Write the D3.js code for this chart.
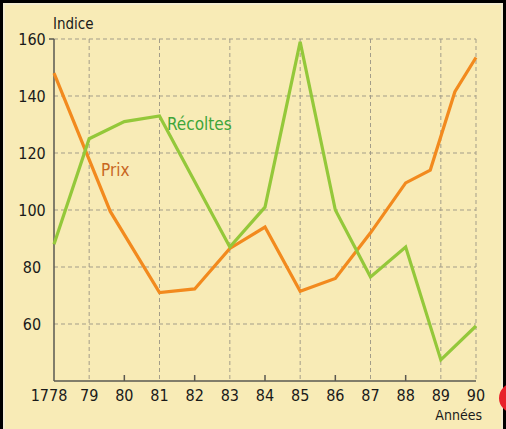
<!DOCTYPE html>
<html>
<head>
<meta charset="utf-8">
<script src="https://cdn.jsdelivr.net/npm/d3@7"></script>
<style>
  html, body { margin: 0; padding: 0; background: #ffffff; }
  svg { display: block; }
  text { font-family: "DejaVu Sans Condensed", "Liberation Sans", sans-serif; }
</style>
</head>
<body>
<svg id="chart" width="506" height="429"></svg>
<script>
// ---- data ----
const recolteYears = [1778, 1779, 1780, 1781, 1782, 1783, 1784, 1785, 1786, 1787, 1788, 1789, 1790];
const recoltes     = [88, 125, 131, 133, 110, 87, 101, 159, 100, 76.5, 87, 47.4, 59.3];
const prixYears    = [1778, 1779.6, 1781, 1782, 1783, 1784, 1785, 1786, 1787, 1788, 1788.7, 1789.4, 1790];
const prix         = [148, 99.5, 71, 72.3, 86.5, 94, 71.5, 76, 92, 109.5, 114, 141.5, 153.5];
const yTicks       = [60, 80, 100, 120, 140, 160];
const xTickYears   = [1778, 1779, 1780, 1781, 1782, 1783, 1784, 1785, 1786, 1787, 1788, 1789, 1790];
const xTickLabels  = ["1778", "79", "80", "81", "82", "83", "84", "85", "86", "87", "88", "89", "90"];
const dashedYears  = [1779, 1781, 1783, 1785, 1787, 1789, 1790];
const solidTickYears = [1780, 1782, 1784, 1786, 1788];

const svg = d3.select("#chart");
const W = 506, H = 429;

// background + frame
svg.append("rect").attr("x", 0).attr("y", 0).attr("width", W).attr("height", H).attr("fill", "#000");
svg.append("rect").attr("x", 3).attr("y", 3).attr("width", W - 6).attr("height", H - 3).attr("fill", "#f3ecd0");
svg.append("rect").attr("x", 5).attr("y", 5).attr("width", W - 10).attr("height", H - 5).attr("fill", "#f8ebb6");
// red decoration at right edge
svg.append("circle").attr("cx", 514).attr("cy", 398).attr("r", 15).attr("fill", "#e8202a");

const x = d3.scaleLinear().domain([1778, 1790]).range([54, 476]);
const y = d3.scaleLinear().domain([40, 160]).range([381, 39]);

const gridColor = "#a39d89";
// horizontal dashed gridlines
svg.append("g").selectAll("line").data(yTicks).join("line")
  .attr("x1", x(1778)).attr("x2", x(1790))
  .attr("y1", d => y(d)).attr("y2", d => y(d))
  .attr("stroke", gridColor).attr("stroke-width", 1).attr("stroke-dasharray", "4,3");
// vertical dashed gridlines
svg.append("g").selectAll("line").data(dashedYears).join("line")
  .attr("x1", d => x(d)).attr("x2", d => x(d))
  .attr("y1", y(160)).attr("y2", y(40))
  .attr("stroke", gridColor).attr("stroke-width", 1).attr("stroke-dasharray", "4,3");

// axes
const axisColor = "#5a5850";
svg.append("line").attr("x1", x(1778)).attr("x2", x(1778)).attr("y1", y(160)).attr("y2", y(40))
  .attr("stroke", axisColor).attr("stroke-width", 1.5);
svg.append("line").attr("x1", x(1778)).attr("x2", x(1790)).attr("y1", y(40)).attr("y2", y(40))
  .attr("stroke", axisColor).attr("stroke-width", 1.5);
svg.append("g").selectAll("line").data(solidTickYears).join("line")
  .attr("x1", d => x(d)).attr("x2", d => x(d))
  .attr("y1", y(40)).attr("y2", y(40) - 6)
  .attr("stroke", axisColor).attr("stroke-width", 1.5);
svg.append("line").attr("x1", x(1778) - 5).attr("x2", x(1778)).attr("y1", y(160)).attr("y2", y(160))
  .attr("stroke", axisColor).attr("stroke-width", 1.5);

// y labels
svg.append("g").selectAll("text").data(yTicks).join("text")
  .attr("x", 32).attr("y", d => y(d)).attr("dy", "0.36em")
  .attr("text-anchor", "middle").attr("font-size", 16).attr("fill", "#1a1a1a")
  .text(d => d);
// x labels
svg.append("g").selectAll("text").data(xTickYears).join("text")
  .attr("x", (d, i) => i === 0 ? x(d) - 5 : x(d)).attr("y", 401)
  .attr("text-anchor", "middle").attr("font-size", 16).attr("fill", "#1a1a1a")
  .text((d, i) => xTickLabels[i]);

svg.append("text").attr("x", 53).attr("y", 29).attr("font-size", 15).attr("fill", "#1a1a1a").text("Indice");
svg.append("text").attr("x", 482).attr("y", 420).attr("text-anchor", "end").attr("font-size", 14).attr("fill", "#1a1a1a").text("Années");

// lines
const line = d3.line().x(d => x(d[0])).y(d => y(d[1]));
svg.append("path").datum(prixYears.map((yr, i) => [yr, prix[i]]))
  .attr("d", line).attr("fill", "none").attr("stroke", "#f28a1e").attr("stroke-width", 3.2)
  .attr("stroke-linejoin", "miter");
svg.append("path").datum(recolteYears.map((yr, i) => [yr, recoltes[i]]))
  .attr("d", line).attr("fill", "none").attr("stroke", "#94c83a").attr("stroke-width", 3.2)
  .attr("stroke-linejoin", "miter");

// series labels
svg.append("text").attr("x", 167).attr("y", 130).attr("font-size", 17).attr("fill", "#3fa53a").text("Récoltes");
svg.append("text").attr("x", 101).attr("y", 176).attr("font-size", 17).attr("fill", "#c8661e").text("Prix");
</script>
</body>
</html>
